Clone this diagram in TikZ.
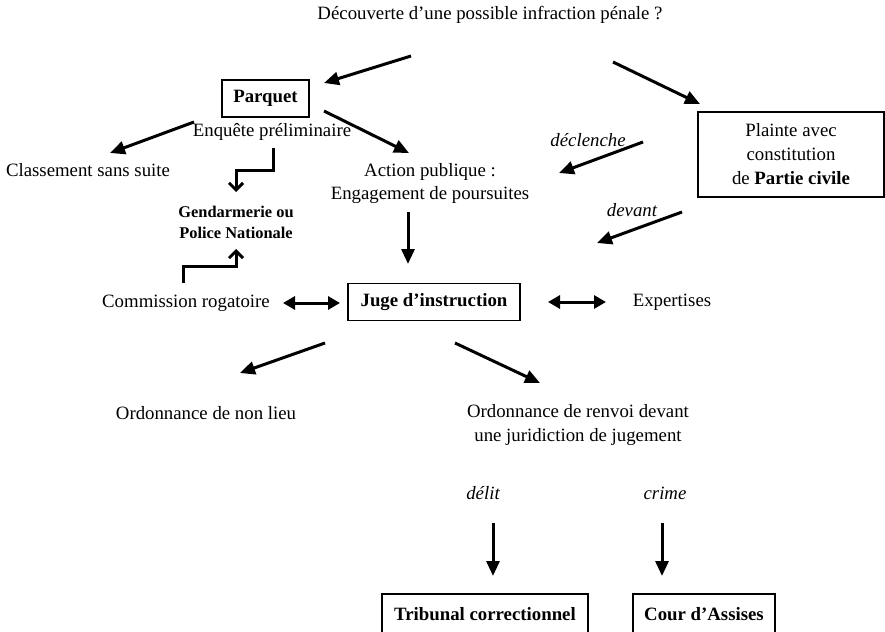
\documentclass[tikz,border=0pt]{standalone}
\usepackage{fontspec}
\setmainfont{Liberation Serif}
\usetikzlibrary{arrows.meta}
\begin{document}
\begin{tikzpicture}[x=1pt,y=-1pt,
  every node/.style={font=\fontsize{18.8}{23}\selectfont, inner sep=0pt, align=center},
  boxed/.style={draw, line width=1.2pt},
  small/.style={font=\fontsize{16.4}{21}\selectfont\bfseries},
  lbl/.style={font=\fontsize{18.8}{23}\selectfont\itshape},
  arr/.style={line width=3pt, -{Triangle[length=15pt,width=13pt]}},
  darr/.style={line width=3pt, {Triangle[length=12pt,width=13pt]}-{Triangle[length=12pt,width=13pt]}},
  elb/.style={line width=3pt, -{Straight Barb[length=7pt,width=14pt]}},
]
\useasboundingbox (0,0) rectangle (885,631);
\fill[white] (0,0) rectangle (885,631);
\clip (0,0) rectangle (885,631);

% nodes
\node (top) at (490,15) {Découverte d’une possible infraction pénale ?};
\node[boxed, minimum width=87pt, minimum height=37pt] (parquet) at (265.5,98.5) {\textbf{Parquet}};
\node (enq) at (272,132) {Enquête préliminaire};
\node (class) at (88,170) {Classement sans suite};
\node[small] (gend) at (236,222.5) {Gendarmerie ou\\Police Nationale};
\node (action) at (430,183.5) {Action publique :\\Engagement de poursuites};
\node[boxed, minimum width=186pt, minimum height=85pt, font=\fontsize{18.8}{24}\selectfont] (plainte) at (791,154.5) {Plainte avec\\constitution\\de \textbf{Partie civile}};
\node[lbl] (decl) at (588,140) {déclenche};
\node[lbl] (devant) at (632,210) {devant};
\node (comm) at (186,303) {Commission rogatoire};
\node[boxed, minimum width=172pt, minimum height=37pt] (juge) at (434,302) {\textbf{Juge d’instruction}};
\node (exp) at (672,302) {Expertises};
\node (nonlieu) at (206,413) {Ordonnance de non lieu};
\node[font=\fontsize{18.8}{24}\selectfont] (renvoi) at (578,425) {Ordonnance de renvoi devant\\une juridiction de jugement};
\node[lbl] (delit) at (483,493) {délit};
\node[lbl] (crime) at (665,493) {crime};
\node[boxed, minimum width=206pt, minimum height=40pt] (trib) at (485,614) {\textbf{Tribunal correctionnel}};
\node[boxed, minimum width=142pt, minimum height=40pt] (cour) at (704,614) {\textbf{Cour d’Assises}};

% arrow end points
\coordinate (a1s) at (411,56);  \coordinate (a1e) at (324,83);
\coordinate (a2s) at (613,62);  \coordinate (a2e) at (700,104);
\coordinate (a3s) at (324,111); \coordinate (a3e) at (409,153);
\coordinate (a4s) at (194,122); \coordinate (a4e) at (110,153);
\coordinate (e1s) at (273,148); \coordinate (e1m) at (236,171); \coordinate (e1e) at (236,192);
\coordinate (e2s) at (183,283); \coordinate (e2m) at (236,266); \coordinate (e2e) at (236,249);
\coordinate (a5s) at (408,212); \coordinate (a5e) at (408,264);
\coordinate (a6s) at (643,142); \coordinate (a6e) at (559,173);
\coordinate (a7s) at (682,212); \coordinate (a7e) at (597,243);
\coordinate (d1s) at (283,303); \coordinate (d1e) at (340,303);
\coordinate (d2s) at (548,302); \coordinate (d2e) at (606,302);
\coordinate (a8s) at (325,343); \coordinate (a8e) at (240,373);
\coordinate (a9s) at (455,343); \coordinate (a9e) at (540,383);
\coordinate (b1s) at (493,523); \coordinate (b1e) at (493,576);
\coordinate (b2s) at (662,523); \coordinate (b2e) at (662,576);

% connectors
\draw[arr] (a1s) -- (a1e);
\draw[arr] (a2s) -- (a2e);
\draw[arr] (a3s) -- (a3e);
\draw[arr] (a4s) -- (a4e);
\draw[elb] (e1s) |- (e1m) -- (e1e);
\draw[elb] (e2s) |- (e2m) -- (e2e);
\draw[arr] (a5s) -- (a5e);
\draw[arr] (a6s) -- (a6e);
\draw[arr] (a7s) -- (a7e);
\draw[darr] (d1s) -- (d1e);
\draw[darr] (d2s) -- (d2e);
\draw[arr] (a8s) -- (a8e);
\draw[arr] (a9s) -- (a9e);
\draw[arr] (b1s) -- (b1e);
\draw[arr] (b2s) -- (b2e);
\end{tikzpicture}
\end{document}
